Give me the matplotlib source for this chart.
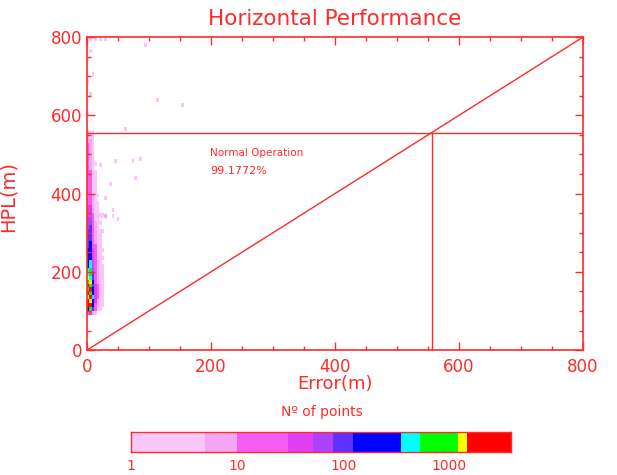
import numpy as np
import matplotlib
matplotlib.use('Agg')
import matplotlib.pyplot as plt
from matplotlib.colors import ListedColormap, BoundaryNorm

matplotlib.rcParams['font.family'] = 'DejaVu Sans'
RED = '#ff2a2a'

# colour scale (N. of points)
cb_bounds = [1, 5, 10, 30, 52, 80, 125, 350, 530, 1200, 1470, 3800]
cb_colors = ['#f9c6f9', '#f4a6f4', '#f45cf4', '#e040f4', '#b040ff', '#6030ff',
             '#0000ff', '#00ffff', '#00ff00', '#ffff00', '#ff0000']
cb_ticks = [1, 10, 100, 1000]

# dense cloud near the axis: error bins 0-28 m (4 m), HPL bins 90-560 m (10 m)
err_edges = [0, 4, 8, 12, 16, 20, 24, 28]
hpl_edges = list(range(90, 570, 10))
core_counts = [
    [20, 40, 5, 1, 0, 0, 0],
    [300, 600, 90, 12, 3, 1, 0],
    [1500, 2000, 200, 25, 6, 2, 1],
    [2500, 1300, 150, 30, 8, 3, 1],
    [1300, 2500, 400, 35, 10, 4, 1],
    [2000, 800, 150, 30, 12, 4, 2],
    [900, 1600, 200, 35, 10, 3, 1],
    [1600, 700, 120, 30, 10, 4, 2],
    [600, 1300, 150, 25, 8, 3, 1],
    [1400, 500, 90, 25, 8, 3, 1],
    [500, 900, 100, 20, 7, 2, 1],
    [400, 600, 60, 20, 6, 2, 1],
    [300, 450, 50, 15, 5, 2, 1],
    [200, 400, 40, 14, 5, 2, 0],
    [200, 250, 35, 12, 4, 1, 1],
    [150, 200, 30, 12, 4, 2, 0],
    [150, 180, 30, 10, 3, 1, 1],
    [120, 150, 25, 10, 3, 1, 0],
    [100, 130, 25, 8, 3, 1, 0],
    [100, 110, 20, 8, 2, 1, 0],
    [90, 100, 20, 6, 2, 1, 0],
    [80, 90, 18, 6, 2, 1, 1],
    [70, 80, 15, 5, 2, 0, 0],
    [60, 70, 14, 5, 2, 1, 0],
    [55, 60, 12, 4, 1, 0, 0],
    [40, 45, 10, 4, 2, 1, 1],
    [35, 35, 8, 3, 1, 0, 0],
    [30, 30, 7, 3, 1, 0, 0],
    [28, 25, 6, 2, 1, 0, 0],
    [25, 22, 5, 2, 0, 0, 0],
    [22, 20, 5, 2, 1, 0, 0],
    [20, 18, 4, 1, 0, 0, 0],
    [20, 15, 4, 1, 0, 0, 0],
    [18, 14, 3, 1, 0, 0, 0],
    [16, 12, 3, 1, 0, 0, 0],
    [15, 10, 3, 1, 0, 0, 0],
    [14, 10, 2, 1, 0, 0, 0],
    [13, 9, 2, 0, 0, 0, 0],
    [12, 8, 2, 1, 0, 0, 0],
    [12, 8, 2, 0, 0, 0, 0],
    [11, 7, 2, 0, 0, 0, 0],
    [11, 6, 1, 0, 0, 0, 0],
    [10, 6, 1, 0, 0, 0, 0],
    [10, 5, 1, 0, 0, 0, 0],
    [9, 5, 1, 0, 0, 0, 0],
    [8, 4, 1, 0, 0, 0, 0],
    [7, 3, 1, 0, 0, 0, 0],
]

# sparse points (error m, HPL m, count)
out_err = [20, 44, 72, 84, 28, 76, 40, 22, 28, 40, 48, 14, 4, 12, 20, 28, 92, 112, 152, 8, 4, 0, 0, 0, 4, 60, 36]
out_hpl = [468, 478, 478, 483, 384, 435, 353, 337, 337, 337, 330, 325, 790, 790, 790, 790, 775, 634, 621, 700, 650, 600, 680, 740, 760, 560, 420]
out_cnt = [3, 2, 2, 2, 3, 2, 3, 4, 6, 4, 3, 4, 4, 3, 3, 2, 1, 1, 1, 2, 2, 3, 3, 3, 2, 1, 2]

alarm_limit = 556

cmap = ListedColormap(cb_colors)
norm = BoundaryNorm(cb_bounds, cmap.N)

fig = plt.figure(figsize=(6.17, 4.75), dpi=100)
ax = fig.add_axes([0.141, 0.263, 0.804, 0.659])

C = np.ma.masked_less(np.array(core_counts, dtype=float), 1)
ax.pcolormesh(err_edges, hpl_edges, C, cmap=cmap, norm=norm)
for e, h, c in zip(out_err, out_hpl, out_cnt):
    ax.add_patch(plt.Rectangle((e, h), 4, 10, color=cmap(norm(c)), lw=0))

ax.plot([0, 800], [0, 800], color=RED, lw=1)
ax.plot([0, 800], [alarm_limit, alarm_limit], color=RED, lw=1)
ax.plot([alarm_limit, alarm_limit], [0, alarm_limit], color=RED, lw=1)

ax.text(198, 503, 'Normal Operation', color=RED, fontsize=7.5, va='center')
ax.text(198, 458, '99.1772%', color=RED, fontsize=8, va='center')

ax.set_xlim(0, 800)
ax.set_ylim(0, 800)
ax.set_xticks(range(0, 801, 200))
ax.set_yticks(range(0, 801, 200))
ax.set_xticks(range(0, 801, 50), minor=True)
ax.set_yticks(range(0, 801, 50), minor=True)
ax.tick_params(which='both', direction='in', top=True, right=True, colors=RED,
               labelsize=12, labelcolor=RED)
ax.tick_params(which='major', length=6, width=1)
ax.tick_params(which='minor', length=3, width=1)
ax.tick_params(axis='x', pad=6)
for s in ax.spines.values():
    s.set_color(RED)
    s.set_linewidth(1.2)
ax.set_xlabel('Error(m)', color=RED, fontsize=13)
ax.set_ylabel('HPL(m)', color=RED, fontsize=14)
ax.xaxis.set_label_coords(0.5, -0.08)
ax.yaxis.set_label_coords(-0.14, 0.49)

fig.text(0.543, 0.96, 'Horizontal Performance', color=RED, fontsize=15.5,
         ha='center', va='center')

# colour bar
cax = fig.add_axes([0.212, 0.048, 0.616, 0.042])
cax.pcolormesh(cb_bounds, [0, 1], np.array([[(a * b) ** 0.5 for a, b in zip(cb_bounds[:-1], cb_bounds[1:])]]),
               cmap=cmap, norm=norm)
cax.set_xscale('log')
cax.set_xlim(cb_bounds[0], cb_bounds[-1])
cax.set_ylim(0, 1)
cax.set_yticks([])
cax.set_xticks(cb_ticks)
cax.set_xticklabels([str(t) for t in cb_ticks])
cax.xaxis.set_minor_locator(matplotlib.ticker.NullLocator())
cax.tick_params(length=0, labelsize=10, labelcolor=RED, pad=5)
for s in cax.spines.values():
    s.set_color(RED)
    s.set_linewidth(1)
fig.text(0.522, 0.133, 'Nº of points', color=RED, fontsize=10, ha='center', va='center')

fig.savefig('out.png', dpi=100)
